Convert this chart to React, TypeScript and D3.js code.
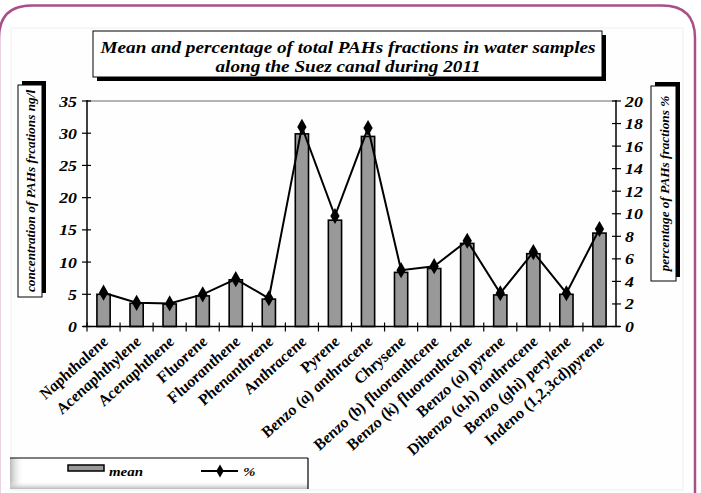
import React from 'react';
import * as d3 from 'd3';

const categories = [
    'Naphthalene', 'Acenaphthylene', 'Acenaphthene', 'Fluorene', 'Fluoranthene', 'Phenanthrene',
    'Anthracene', 'Pyrene', 'Benzo (a) anthracene', 'Chrysene', 'Benzo (b) fluoranthcene',
    'Benzo (k) fluoranthcene', 'Benzo (a) pyrene', 'Dibenzo (a,h) anthracene', 'Benzo (ghi) perylene',
    'Indeno (1,2,3cd)pyrene',
];
const meanValues = [5.0, 3.6, 3.5, 4.75, 7.25, 4.25, 29.9, 16.5, 29.5, 8.4, 9.0, 12.9, 4.9, 11.3, 5.0, 14.5];
const percentValues = [3.0, 2.1, 2.05, 2.85, 4.2, 2.5, 17.7, 9.8, 17.6, 5.0, 5.35, 7.6, 2.95, 6.6, 2.95, 8.65];
const leftTicks = [0, 5, 10, 15, 20, 25, 30, 35];
const rightTicks = [0, 2, 4, 6, 8, 10, 12, 14, 16, 18, 20];

const FONT = '"Liberation Serif", "Times New Roman", serif';
// the source picture is a little stretched sideways, text too
const SX = 1.15;

const App: React.FC = () => {
    const m = { left: 87, right: 616, top: 101, bottom: 326.5 };

    const x = d3.scaleBand<string>().domain(categories).range([m.left, m.right]).paddingInner(0.6).paddingOuter(0.3);
    const xb = d3.scaleBand<string>().domain(categories).range([m.left, m.right]);
    const yL = d3.scaleLinear().domain([0, 35]).range([m.bottom, m.top]);
    const yR = d3.scaleLinear().domain([0, 20]).range([m.bottom, m.top]);
    const cx = (c: string) => (xb(c) as number) + xb.bandwidth() / 2;

    const line = d3
        .line<number>()
        .x((_, i) => cx(categories[i]))
        .y((d) => yR(d));

    const diamond = d3.symbol().type(d3.symbolDiamond).size(75)();
    const legDiamond = d3.symbol().type(d3.symbolDiamond).size(50)();
    const txt = { fontFamily: FONT, fontWeight: 'bold' as const, fontStyle: 'italic' as const };

    return (
        <svg width={701} height={493} style={{ position: 'absolute', left: 0, top: 0, background: '#fff' }}>
            <defs>
                <linearGradient id="fadeL" x1="0" x2="1" y1="0" y2="0">
                    <stop offset="0" stopColor="#b8b8b8" />
                    <stop offset="1" stopColor="#ffffff" stopOpacity="0" />
                </linearGradient>
                <linearGradient id="fadeB" x1="0" x2="0" y1="1" y2="0">
                    <stop offset="0" stopColor="#b8b8b8" />
                    <stop offset="1" stopColor="#ffffff" stopOpacity="0" />
                </linearGradient>
            </defs>

            {/* outer rounded frame */}
            <path
                d="M -1 530 L -1 38 Q -1 5.5 32 5.5 L 662 5.5 Q 695 5.5 695 38 L 695 530"
                fill="none"
                stroke="#a8508a"
                strokeWidth={2.5}
            />
            {/* inner panel */}
            <rect x={11} y={28} width={672} height={462} fill="#fefefe" stroke="#efefef" />

            {/* title */}
            <rect x={97} y={35} width={509} height={46} fill="#000" />
            <rect x={93} y={31} width={509} height={46} fill="#fff" stroke="#000" />
            <text transform={`translate(348,52.5) scale(1.13,1)`} textAnchor="middle" fontSize={17} {...txt}>
                Mean and percentage of total PAHs fractions in water samples
            </text>
            <text transform={`translate(348,71.5) scale(1.13,1)`} textAnchor="middle" fontSize={17} {...txt}>
                along the Suez canal during 2011
            </text>

            {/* left axis title */}
            <rect x={22} y={81} width={24} height={212} fill="#000" />
            <rect x={18} y={85} width={24} height={212} fill="#fff" stroke="#000" />
            <text transform="translate(35,191) rotate(-90)" textAnchor="middle" fontSize={13.3} {...txt}>
                concentration of PAHs frcations ng/l
            </text>

            {/* right axis title */}
            <rect x={655} y={82} width={25} height={195} fill="#000" />
            <rect x={651} y={86} width={25} height={195} fill="#fff" stroke="#000" />
            <text transform="translate(668.5,183.5) rotate(-90)" textAnchor="middle" fontSize={13.3} {...txt}>
                percentage of PAHs fractions %
            </text>

            {/* plot area top border */}
            <line x1={m.left} x2={m.right} y1={m.top} y2={m.top} stroke="#9a9a9a" strokeWidth={1.5} />

            {/* bars */}
            {meanValues.map((v, i) => (
                <rect
                    key={categories[i]}
                    x={x(categories[i])}
                    y={yL(v)}
                    width={x.bandwidth()}
                    height={m.bottom - yL(v)}
                    fill="#999999"
                    stroke="#000"
                    strokeWidth={1.6}
                />
            ))}

            {/* axes */}
            <line x1={m.left} x2={m.left} y1={m.top - 1} y2={m.bottom} stroke="#000" strokeWidth={1.5} />
            <line x1={m.right} x2={m.right} y1={m.top - 1} y2={m.bottom} stroke="#000" strokeWidth={1.5} />
            <line x1={m.left - 4} x2={m.right + 4} y1={m.bottom} y2={m.bottom} stroke="#000" strokeWidth={1.5} />
            {leftTicks.map((t) => (
                <g key={'l' + t}>
                    <line x1={m.left - 5} x2={m.left + 4} y1={yL(t)} y2={yL(t)} stroke="#000" strokeWidth={1.2} />
                    <text transform={`translate(77,${yL(t) + 5.5}) scale(${SX},1)`} textAnchor="end" fontSize={15.5} {...txt}>
                        {t}
                    </text>
                </g>
            ))}
            {rightTicks.map((t) => (
                <g key={'r' + t}>
                    <line x1={m.right - 4} x2={m.right + 5} y1={yR(t)} y2={yR(t)} stroke="#000" strokeWidth={1.2} />
                    <text transform={`translate(625,${yR(t) + 5.5}) scale(${SX},1)`} textAnchor="start" fontSize={15.5} {...txt}>
                        {t}
                    </text>
                </g>
            ))}
            {categories.map((c) => (
                <line
                    key={'t' + c}
                    x1={xb(c) as number}
                    x2={xb(c) as number}
                    y1={m.bottom - 4}
                    y2={m.bottom + 5}
                    stroke="#000"
                    strokeWidth={1.2}
                />
            ))}

            {/* percent line */}
            <path d={line(percentValues) || ''} fill="none" stroke="#000" strokeWidth={2} />
            {percentValues.map((v, i) => (
                <path
                    key={'d' + i}
                    d={diamond || ''}
                    transform={`translate(${cx(categories[i])},${yR(v)})`}
                    fill="#000"
                />
            ))}

            {/* category labels */}
            {categories.map((c) => (
                <text
                    key={'c' + c}
                    transform={`translate(${cx(c) + 6},${m.bottom + 16}) scale(${SX},1) rotate(-46)`}
                    textAnchor="end"
                    fontSize={15}
                    {...txt}
                >
                    {c}
                </text>
            ))}

            {/* legend */}
            <rect x={10} y={458} width={298} height={31} fill="#fff" />
            <rect x={10} y={458} width={14} height={31} fill="url(#fadeL)" />
            <rect x={10} y={481} width={298} height={8} fill="url(#fadeB)" />
            <line x1={10} x2={308} y1={458} y2={458} stroke="#000" strokeWidth={1.2} />
            <line x1={308} x2={308} y1={458} y2={489} stroke="#000" strokeWidth={1.2} />
            <rect x={68} y={465} width={36} height={6} fill="#999999" stroke="#000" strokeWidth={1.5} />
            <text transform={`translate(109,476) scale(${SX},1)`} fontSize={13} {...txt}>
                mean
            </text>
            <line x1={201} x2={238} y1={471} y2={471} stroke="#000" strokeWidth={2} />
            <path d={legDiamond || ''} transform="translate(220,471)" fill="#000" />
            <text transform={`translate(243,476) scale(${SX},1)`} fontSize={13} {...txt}>
                %
            </text>
        </svg>
    );
};

export default App;
